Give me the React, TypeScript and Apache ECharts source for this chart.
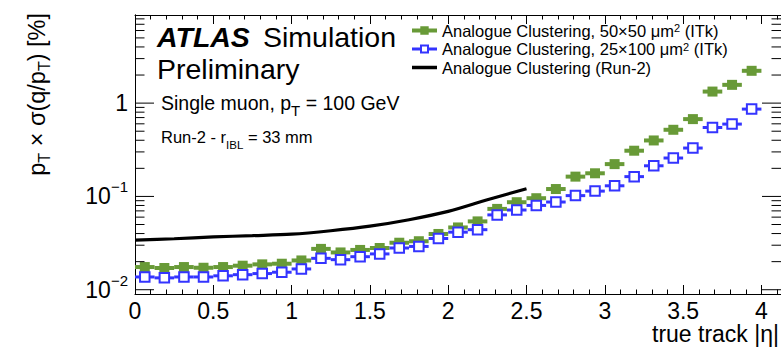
import React, { useEffect, useRef } from 'react';
import * as echarts from 'echarts';

// ---- data ----
const ETA_BINS = [
  0.0625, 0.1875, 0.3125, 0.4375, 0.5625, 0.6875, 0.8125, 0.9375,
  1.0625, 1.1875, 1.3125, 1.4375, 1.5625, 1.6875, 1.8125, 1.9375,
  2.0625, 2.1875, 2.3125, 2.4375, 2.5625, 2.6875, 2.8125, 2.9375,
  3.0625, 3.1875, 3.3125, 3.4375, 3.5625, 3.6875, 3.8125, 3.9375,
];
const BIN_WIDTH = 0.125;
const RES_50X50 = [
  0.0175, 0.0171, 0.0175, 0.0172, 0.0175, 0.0181, 0.0187, 0.0190,
  0.0206, 0.0274, 0.0251, 0.0267, 0.0280, 0.0319, 0.0331, 0.0396,
  0.0465, 0.0540, 0.0735, 0.0867, 0.0957, 0.120, 0.163, 0.177,
  0.222, 0.309, 0.398, 0.518, 0.674, 1.33, 1.57, 2.22,
];
const RES_25X100 = [
  0.0137, 0.0134, 0.0137, 0.0137, 0.0141, 0.0145, 0.0149, 0.0154,
  0.0167, 0.0217, 0.0210, 0.0226, 0.0242, 0.0280, 0.0291, 0.0354,
  0.0414, 0.0440, 0.0634, 0.0715, 0.0801, 0.0871, 0.102, 0.114,
  0.130, 0.163, 0.213, 0.258, 0.330, 0.548, 0.596, 0.863,
];
const RUN2_ETA = [0, 0.25, 0.5, 0.75, 1.0, 1.25, 1.5, 1.75, 2.0, 2.25, 2.5];
const RUN2_RES = [0.0340, 0.0352, 0.0368, 0.0380, 0.0394, 0.0429, 0.0480, 0.0563, 0.0691, 0.0922, 0.1209];

const X_MIN = 0;
const X_MAX = 4.125;
const X_INTERVAL = 0.5;
const Y_MIN = 0.009;
const Y_MAX = 8.8;
const Y_MAJOR_TICKS = [0.01, 0.1, 1];
const Y_MINOR_TICKS = [
  0.02, 0.03, 0.04, 0.05, 0.06, 0.07, 0.08, 0.09,
  0.2, 0.3, 0.4, 0.5, 0.6, 0.7, 0.8, 0.9,
  2, 3, 4, 5, 6, 7, 8,
];

const NAME_50 = 'Analogue Clustering, 50×50 μm² (ITk)';
const NAME_25 = 'Analogue Clustering, 25×100 μm² (ITk)';
const NAME_RUN2 = 'Analogue Clustering (Run-2)';

const GREEN = '#689a37';
const BLUE = '#3434ff';
const FONT = '"Liberation Sans", Arial, Helvetica, sans-serif';

const ICON_FILLED = 'path://M0,2.25 H8.3 V0 H16.7 V2.25 H25 V6.25 H16.7 V8.5 H8.3 V6.25 H0 Z';
const ICON_OPEN = 'path://M0,3 H8 V0 H17 V3 H25 V6 H17 V9 H8 V6 H0 Z M10,2 V7 H15 V2 Z';

function markerSeries(name: string, values: number[], color: string, filled: boolean, barWidth: number, z: number) {
  return {
    type: 'custom',
    name,
    z,
    itemStyle: { color },
    data: ETA_BINS.map((x, i) => [x, values[i]]),
    renderItem: (_params: any, api: any) => {
      const x = api.value(0);
      const y = api.value(1);
      const a = api.coord([x - BIN_WIDTH / 2, y]);
      const b = api.coord([x + BIN_WIDTH / 2, y]);
      const c = api.coord([x, y]);
      const s = filled ? 10 : 9.5;
      return {
        type: 'group',
        children: [
          { type: 'line', shape: { x1: a[0], y1: a[1], x2: b[0], y2: b[1] }, style: { stroke: color, lineWidth: barWidth } },
          {
            type: 'rect',
            shape: { x: c[0] - s / 2, y: c[1] - s / 2, width: s, height: s },
            style: filled ? { fill: color } : { fill: '#fff', stroke: color, lineWidth: 2 },
          },
        ],
      };
    },
  };
}

function yTickSeries(name: string, values: number[], length: number) {
  return {
    type: 'custom',
    name,
    silent: true,
    z: 6,
    data: values.map((v) => [X_MIN, v]),
    renderItem: (params: any, api: any) => {
      const cs = params.coordSys;
      const p = api.coord([X_MIN, api.value(1)]);
      return {
        type: 'group',
        children: [
          { type: 'line', shape: { x1: cs.x, y1: p[1], x2: cs.x + length, y2: p[1] }, style: { stroke: '#000', lineWidth: 1 } },
          { type: 'line', shape: { x1: cs.x + cs.width - length, y1: p[1], x2: cs.x + cs.width, y2: p[1] }, style: { stroke: '#000', lineWidth: 1 } },
        ],
      };
    },
  };
}

const legendText = (name: string) => name.replace('²', '{sup|2}');

const legendBase = (top: number) => ({
  left: 412,
  top,
  padding: 0,
  itemWidth: 25,
  itemHeight: 9,
  selectedMode: false,
  formatter: legendText,
  textStyle: {
    fontFamily: FONT,
    fontSize: 16.5,
    color: '#000',
    lineHeight: 16,
    rich: {
      sup: { fontFamily: FONT, fontSize: 11, verticalAlign: 'top', lineHeight: 16 },
    },
  },
});

export default function App() {
  const ref = useRef<HTMLDivElement>(null);

  useEffect(() => {
    document.body.style.margin = '0';
    if (!ref.current) return;
    const chart = echarts.init(ref.current, undefined, { renderer: 'svg' });

    const yLabelRich = {
      b: { fontFamily: FONT, fontSize: 23, color: '#000', lineHeight: 34 },
      s: { fontFamily: FONT, fontSize: 15, color: '#000', verticalAlign: 'top' },
    };

    const option: any = {
      animation: false,
      backgroundColor: '#fff',
      grid: { left: 135, top: 15, right: -2, bottom: 54, containLabel: false },
      xAxis: [
        {
          type: 'value',
          min: X_MIN,
          max: X_MAX,
          interval: X_INTERVAL,
          position: 'bottom',
          axisLine: { show: true, lineStyle: { color: '#000', width: 1 } },
          axisTick: { show: true, inside: true, length: 9, lineStyle: { color: '#000' } },
          minorTick: { show: true, splitNumber: 5, length: 4.5, lineStyle: { color: '#000' } },
          splitLine: { show: false },
          axisLabel: {
            show: true,
            margin: 5,
            showMaxLabel: false,
            fontFamily: FONT,
            fontSize: 23,
            color: '#000',
            formatter: (v: number) => String(v),
          },
        },
        {
          type: 'value',
          min: X_MIN,
          max: X_MAX,
          interval: X_INTERVAL,
          position: 'top',
          axisLine: { show: true, lineStyle: { color: '#000', width: 1 } },
          axisTick: { show: true, inside: true, length: 9, lineStyle: { color: '#000' } },
          minorTick: { show: true, splitNumber: 5, length: 4.5, lineStyle: { color: '#000' } },
          splitLine: { show: false },
          axisLabel: { show: false },
        },
      ],
      yAxis: [
        {
          type: 'log',
          logBase: 10,
          min: Y_MIN,
          max: Y_MAX,
          position: 'left',
          axisLine: { show: true, lineStyle: { color: '#000', width: 1 } },
          axisTick: { show: false },
          splitLine: { show: false },
          axisLabel: {
            show: true,
            margin: 7,
            showMinLabel: false,
            showMaxLabel: false,
            formatter: (v: number) => {
              const e = Math.round(Math.log10(v));
              if (e === 0) return '{b|1}';
              return `{b|10}{s|−${-e}}`;
            },
            rich: yLabelRich,
          },
        },
        {
          type: 'log',
          logBase: 10,
          min: Y_MIN,
          max: Y_MAX,
          position: 'right',
          axisLine: { show: true, lineStyle: { color: '#000', width: 1 } },
          axisTick: { show: false },
          splitLine: { show: false },
          axisLabel: { show: false },
        },
      ],
      legend: [
        { ...legendBase(22), data: [{ name: NAME_50, icon: ICON_FILLED }] },
        { ...legendBase(40.5), data: [{ name: NAME_25, icon: ICON_OPEN }] },
        { ...legendBase(59), itemHeight: 3.5, data: [{ name: NAME_RUN2, icon: 'rect' }] },
      ],
      series: [
        yTickSeries('major-y-ticks', Y_MAJOR_TICKS, 19),
        yTickSeries('minor-y-ticks', Y_MINOR_TICKS, 9.5),
        {
          type: 'line',
          name: NAME_RUN2,
          data: RUN2_ETA.map((x, i) => [x, RUN2_RES[i]]),
          smooth: 0.3,
          showSymbol: false,
          symbol: 'none',
          itemStyle: { color: '#000' },
          lineStyle: { color: '#000', width: 3.2 },
          z: 3,
        },
        markerSeries(NAME_50, RES_50X50, GREEN, true, 4, 4),
        markerSeries(NAME_25, RES_25X100, BLUE, false, 3, 5),
      ],
      graphic: [
        {
          type: 'text', x: 157, y: 37,
          style: { text: 'ATLAS', fontFamily: FONT, fontSize: 28.5, fontWeight: 'bold', fontStyle: 'italic', fill: '#000', verticalAlign: 'middle', lineHeight: 27 },
        },
        {
          type: 'text', x: 263, y: 37,
          style: { text: 'Simulation', fontFamily: FONT, fontSize: 28.5, fill: '#000', verticalAlign: 'middle', lineHeight: 27 },
        },
        {
          type: 'text', x: 157, y: 69,
          style: { text: 'Preliminary', fontFamily: FONT, fontSize: 28.5, fill: '#000', verticalAlign: 'middle', lineHeight: 27 },
        },
        {
          type: 'text', x: 161, y: 103,
          style: {
            text: '{a|Single muon, p}{s|T}{a| = 100 GeV}',
            verticalAlign: 'middle',
            rich: {
              a: { fontFamily: FONT, fontSize: 19.5, fill: '#000', lineHeight: 30 },
              s: { fontFamily: FONT, fontSize: 15, fill: '#000', verticalAlign: 'bottom' },
            },
          },
        },
        {
          type: 'text', x: 161, y: 137,
          style: {
            text: '{a|Run-2 - r}{s|IBL}{a| = 33 mm}',
            verticalAlign: 'middle',
            rich: {
              a: { fontFamily: FONT, fontSize: 16.5, fill: '#000', lineHeight: 27 },
              s: { fontFamily: FONT, fontSize: 11.5, fill: '#000', verticalAlign: 'bottom' },
            },
          },
        },
        {
          type: 'text', x: 37, y: 13, rotation: Math.PI / 2,
          style: {
            text: '{a|p}{s|T}{a| × σ(q/p}{s|T}{a|) [%]}',
            align: 'right',
            verticalAlign: 'middle',
            rich: {
              a: { fontFamily: FONT, fontSize: 23.5, fill: '#000', lineHeight: 31 },
              s: { fontFamily: FONT, fontSize: 16, fill: '#000', verticalAlign: 'bottom' },
            },
          },
        },
        {
          type: 'text', x: 779, y: 334,
          style: { text: 'true track |η|', fontFamily: FONT, fontSize: 23, fill: '#000', align: 'right', verticalAlign: 'middle' },
        },
      ],
    };

    chart.setOption(option);
    return () => chart.dispose();
  }, []);

  return <div ref={ref} style={{ width: 781, height: 348, overflow: 'hidden' }} />;
}
